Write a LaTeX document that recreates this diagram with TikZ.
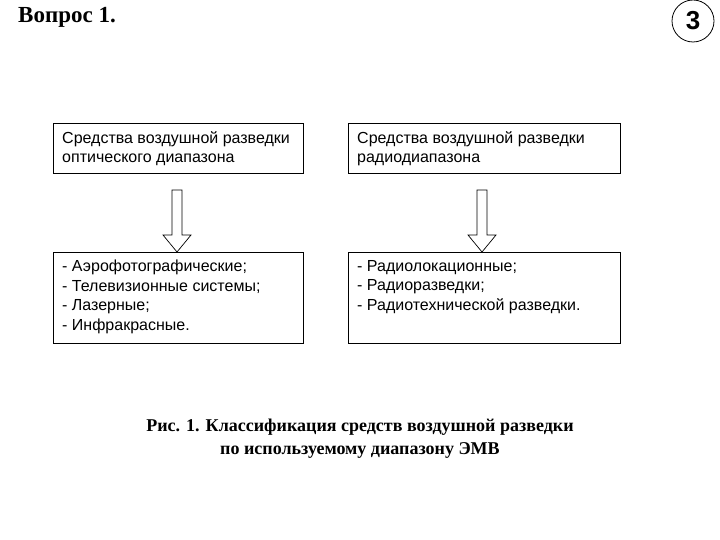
\documentclass[tikz,border=0pt]{standalone}
\usepackage{fontspec}
\setmainfont{Liberation Serif}
\newfontfamily\arialf{Liberation Sans}
\begin{document}
\begin{tikzpicture}[x=1pt,y=-1pt,
  bx/.style={draw,line width=0.8pt,inner sep=0pt},
  tx/.style={anchor=north west,font=\arialf\fontsize{16}{19.5}\selectfont,align=left,inner sep=0pt},
  arr/.style={draw,line width=0.7pt,fill=white}]
\useasboundingbox (0,0) rectangle (720,540);
\fill[white] (0,0) rectangle (720,540);
\node[anchor=west,font=\bfseries\fontsize{23}{25}\selectfont,inner sep=0pt] (q) at (18,17) {Вопрос 1.};
\node[draw,circle,minimum size=42,inner sep=0pt,line width=0.8pt,font=\arialf\bfseries\fontsize{26}{26}\selectfont] (num) at (693,21) {3};
\draw[bx] (53,123) rectangle (303,173);
\draw[bx] (348,123) rectangle (620,173);
\draw[bx] (53,252) rectangle (303,343);
\draw[bx] (348,252) rectangle (620,343);
\node[tx] (t1) at (62,131) {Средства воздушной разведки\\оптического диапазона};
\node[tx] (t2) at (357,131) {Средства воздушной разведки\\радиодиапазона};
\node[tx] (t3) at (62,260) {- Аэрофотографические;\\- Телевизионные системы;\\- Лазерные;\\- Инфракрасные.};
\node[tx] (t4) at (357,260) {- Радиолокационные;\\- Радиоразведки;\\- Радиотехнической разведки.};
\foreach \cx in {177,482}{
  \draw[arr] (\cx-5,190) -- (\cx+5,190) -- (\cx+5,235) -- (\cx+14,235) -- (\cx,252) -- (\cx-14,235) -- (\cx-5,235) -- cycle;
}
\node[font=\bfseries\fontsize{18}{23}\selectfont,align=center] (cap) at (360,439) {Рис. 1. Классификация средств воздушной разведки\\по используемому диапазону ЭМВ};
\end{tikzpicture}
\end{document}
